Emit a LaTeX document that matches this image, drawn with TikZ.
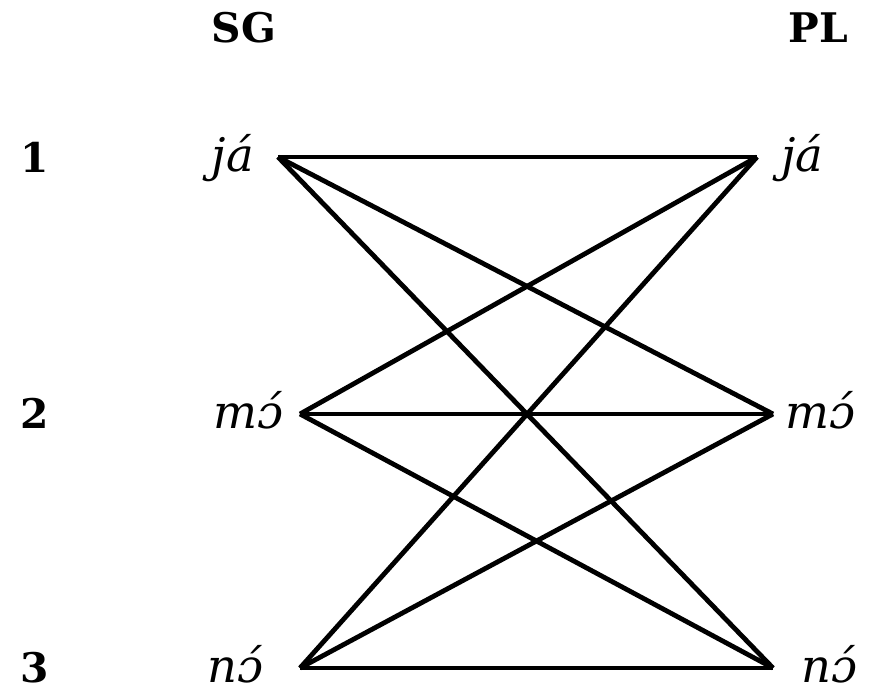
\documentclass[tikz,border=0pt]{standalone}
\usepackage{fontspec}
\setmainfont{DejaVu Serif}
\usepackage{tikz}
\usetikzlibrary{positioning}

\begin{document}
\begin{tikzpicture}[
    x=0.025cm, y=-0.025cm,
    node distance = 0.5cm,
    head/.style = {
        font=\fontsize{29}{34}\selectfont\bfseries,
        inner sep=0pt, anchor=base
    },
    num/.style  = {head},
    word/.style = {
        font=\fontsize{33}{38}\selectfont\itshape,
        inner sep=0pt, text height=21pt, text depth=0pt
    },
    link/.style = {line width=0.12cm}
]
\useasboundingbox (0,0) rectangle (869,690);

%% Column Heads
\node[head] (sg) at (244,43) {SG};
\node[head] (pl) at (818,43) {PL};

%% Person Numbers
\node[num] (p1) at (35,172) {1};
\node[num] (p2) at (35,428) {2};
\node[num] (p3) at (35,682) {3};

%% Line Ends
\coordinate (a1) at (278,157);
\coordinate (a2) at (300,414);
\coordinate (a3) at (300,668);
\coordinate (b1) at (757,157);
\coordinate (b2) at (773,414);
\coordinate (b3) at (773,668);

%% Forms
\node[word, left=0.6cm of a1] (sg1) {já};
\node[word, left=0.4cm of a2] (sg2) {mɔ́};
\node[word, left=0.9cm of a3] (sg3) {nɔ́};
\node[word, right=0.6cm of b1] (pl1) {já};
\node[word, right=0.3cm of b2] (pl2) {mɔ́};
\node[word, right=0.7cm of b3] (pl3) {nɔ́};

%% Links
\draw[link] (a1) -- (b1);
\draw[link] (a1) -- (b2);
\draw[link] (a1) -- (b3);
\draw[link] (a2) -- (b1);
\draw[link] (a2) -- (b2);
\draw[link] (a2) -- (b3);
\draw[link] (a3) -- (b1);
\draw[link] (a3) -- (b2);
\draw[link] (a3) -- (b3);

\end{tikzpicture}
\end{document}
